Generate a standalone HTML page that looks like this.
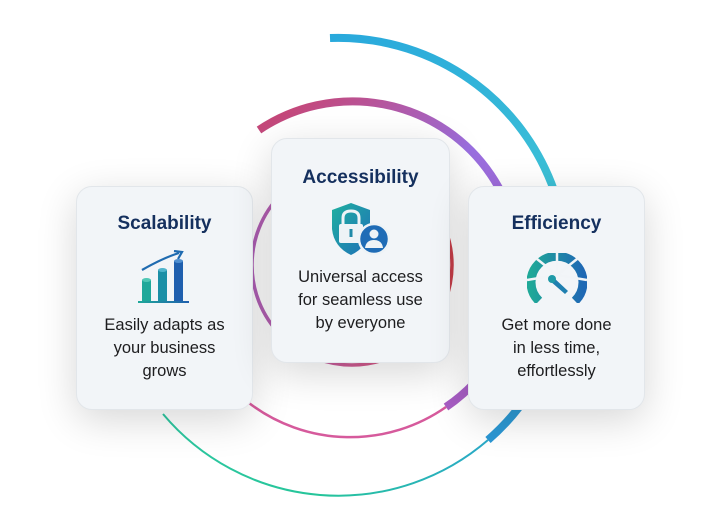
<!DOCTYPE html>
<html><head><meta charset="utf-8"><style>
html,body{margin:0;padding:0;background:#fff;}
#w{position:relative;width:709px;height:532px;overflow:hidden;font-family:"Liberation Sans",sans-serif;}
svg.bg{position:absolute;left:0;top:0;}
.card{position:absolute;background:#f2f5f8;border:1px solid #e2e6ea;border-radius:16px;box-shadow:0 10px 40px rgba(0,0,0,0.16);text-align:center;box-sizing:border-box;}
.t{position:absolute;left:0;right:0;font-weight:bold;font-size:19px;color:#15305e;}
.b{position:absolute;left:0;right:0;font-size:16.5px;line-height:23px;color:#1d1d1f;}
.ic{position:absolute;}
</style></head><body><div id="w">
<svg class="bg" width="709" height="532">
<defs>
<linearGradient id="go" gradientUnits="userSpaceOnUse" x1="330" y1="38" x2="500" y2="440"><stop offset="0" stop-color="#29a9dc"/><stop offset="0.5" stop-color="#3cc0d6"/><stop offset="1" stop-color="#2b96d4"/></linearGradient>
<linearGradient id="gt" gradientUnits="userSpaceOnUse" x1="488" y1="440" x2="163" y2="414"><stop offset="0" stop-color="#2aa9c8"/><stop offset="0.5" stop-color="#25c59a"/><stop offset="1" stop-color="#2ec7a0"/></linearGradient>
<linearGradient id="gm" gradientUnits="userSpaceOnUse" x1="259" y1="130" x2="446" y2="407"><stop offset="0" stop-color="#c4487a"/><stop offset="0.4" stop-color="#9a6fe0"/><stop offset="1" stop-color="#a85ec4"/></linearGradient>
<linearGradient id="gi" gradientUnits="userSpaceOnUse" x1="252" y1="265" x2="452" y2="265"><stop offset="0" stop-color="#b060b8"/><stop offset="0.6" stop-color="#d25a8a"/><stop offset="1" stop-color="#cc3f4a"/></linearGradient>
</defs>
<path d="M330,38 A229,229 0 0 1 488,440" fill="none" stroke="url(#go)" stroke-width="8"/>
<path d="M488,440 A229,229 0 0 1 163,414" fill="none" stroke="url(#gt)" stroke-width="2"/>
<path d="M259,130 A167,167 0 0 1 446,407" fill="none" stroke="url(#gm)" stroke-width="8"/>
<path d="M446,407 A167,167 0 0 1 249,403" fill="none" stroke="#d65a9c" stroke-width="2.5"/>
<circle cx="352" cy="265" r="100" fill="none" stroke="url(#gi)" stroke-width="3.5"/>
</svg>

<div class="card" style="left:76px;top:186px;width:177px;height:224px;">
<div class="t" style="top:26px;">Scalability</div>
<svg class="ic" style="left:60px;top:63px" width="58" height="56" viewBox="0 0 58 56">
<defs><linearGradient id="c1" x1="0" y1="0" x2="1" y2="0"><stop offset="0" stop-color="#1fa89a"/><stop offset="1" stop-color="#1f5fae"/></linearGradient></defs>
<path d="M5,20 Q26,8 42,3" fill="none" stroke="#1f6bb0" stroke-width="2.2"/><path d="M37,1 L45,2 L41,9" fill="none" stroke="#1f6bb0" stroke-width="2.2"/>
<rect x="5" y="30" width="9" height="21" fill="#1fa89a"/><ellipse cx="9.5" cy="30" rx="4.5" ry="2" fill="#4fc7b5"/>
<rect x="21" y="20" width="9" height="31" fill="#1b8fa6"/><ellipse cx="25.5" cy="20" rx="4.5" ry="2" fill="#4fb4cc"/>
<rect x="37" y="11" width="9" height="40" fill="#1f5fae"/><ellipse cx="41.5" cy="11" rx="4.5" ry="2" fill="#4f8fd0"/>
<rect x="1" y="51" width="51" height="2" fill="url(#c1)"/>
</svg>
<div class="b" style="top:127px;">Easily adapts as<br>your business<br>grows</div>
</div>

<div class="card" style="left:271px;top:138px;width:179px;height:225px;">
<div class="t" style="top:28px;">Accessibility</div>
<svg class="ic" style="left:58px;top:62px" width="60" height="56" viewBox="0 0 60 56">
<defs><linearGradient id="c2" x1="0" y1="0" x2="1" y2="1"><stop offset="0" stop-color="#1fb0a0"/><stop offset="1" stop-color="#1f70b8"/></linearGradient></defs>
<path d="M21,2 L40,9 L40,28 Q38,46 21,54 Q4,46 2,28 L2,9 Z" fill="url(#c2)"/>
<path d="M13,24 L13,17 Q13,10 21,10 Q29,10 29,17 L29,24" fill="none" stroke="#eef3f6" stroke-width="3"/>
<rect x="9" y="23" width="24" height="19" rx="2" fill="#eef3f6"/><rect x="19.5" y="28" width="3" height="8" fill="#1f8aa8"/>
<circle cx="44" cy="38" r="15" fill="#1f6cb6" stroke="#eef3f6" stroke-width="2.5"/>
<circle cx="44" cy="33" r="4.5" fill="#eef3f6"/><path d="M35,47 Q36,39 44,39 Q52,39 53,47 Z" fill="#eef3f6"/>
</svg>
<div class="b" style="top:127px;">Universal access<br>for seamless use<br>by everyone</div>
</div>

<div class="card" style="left:468px;top:186px;width:177px;height:224px;">
<div class="t" style="top:26px;">Efficiency</div>
<svg class="ic" style="left:58px;top:66px" width="60" height="50" viewBox="0 0 60 50">
<defs><linearGradient id="c3" x1="0" y1="0" x2="1" y2="0"><stop offset="0" stop-color="#1fa898"/><stop offset="1" stop-color="#1f68b4"/></linearGradient></defs>
<path d="M12,48 A26,26 0 1 1 48,48" fill="none" stroke="url(#c3)" stroke-width="9"/>
<g stroke="#f1f4f7" stroke-width="2.5"><line x1="30" y1="22" x2="30" y2="0"/><line x1="30" y1="22" x2="10" y2="6"/><line x1="30" y1="22" x2="50" y2="6"/><line x1="30" y1="22" x2="0" y2="27"/><line x1="30" y1="22" x2="60" y2="27"/></g>
<path d="M26,24 L41,38 L38,41 L23,28 Z" fill="#1f7fb0"/><circle cx="25" cy="26" r="4" fill="#1f9aa8"/>
</svg>
<div class="b" style="top:127px;">Get more done<br>in less time,<br>effortlessly</div>
</div>
</div></body></html>
